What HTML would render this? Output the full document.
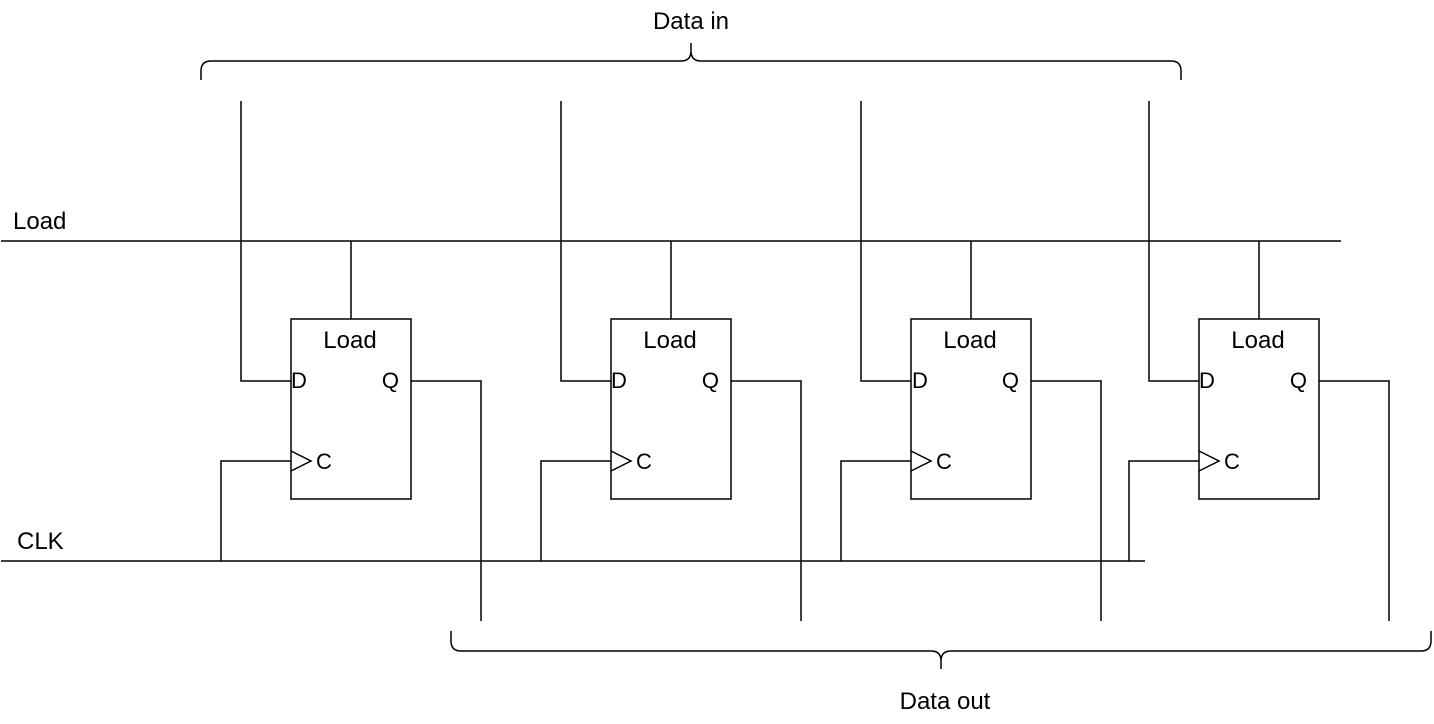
<!DOCTYPE html>
<html><head><meta charset="utf-8"><style>
html,body{margin:0;padding:0;background:#fff;}
svg{display:block;}
text{font-family:"Liberation Sans",sans-serif;font-size:24px;fill:#000;}
text.s{font-size:22px;}
</style></head><body>
<svg width="1434" height="724" viewBox="0 0 1434 724" xmlns="http://www.w3.org/2000/svg">
<g stroke="#000" stroke-width="1.5" fill="none">
<path d="M201,80 V71 Q201,61 211,61 H681 Q691,61 691,51 V43 M691,51 Q691,61 701,61 H1171 Q1181,61 1181,71 V80"/>
<path d="M451,631 V641 Q451,651 461,651 H931 Q941,651 941,661 V669 M941,661 Q941,651 951,651 H1421 Q1431,651 1431,641 V631"/>
<line x1="1" y1="241" x2="1341" y2="241"/>
<line x1="1" y1="561" x2="1145" y2="561"/>
</g>
<g stroke="#000" stroke-width="1.5" fill="none">
<path d="M241,101 V381 H291"/>
<rect x="291" y="319" width="120" height="180"/>
<line x1="351" y1="241" x2="351" y2="319"/>
<path d="M411,381 H481 V621"/>
<path d="M221,561 V461 H291"/>
<path d="M291,451 L311,461 L291,471"/>
<path d="M561,101 V381 H611"/>
<rect x="611" y="319" width="120" height="180"/>
<line x1="671" y1="241" x2="671" y2="319"/>
<path d="M731,381 H801 V621"/>
<path d="M541,561 V461 H611"/>
<path d="M611,451 L631,461 L611,471"/>
<path d="M861,101 V381 H911"/>
<rect x="911" y="319" width="120" height="180"/>
<line x1="971" y1="241" x2="971" y2="319"/>
<path d="M1031,381 H1101 V621"/>
<path d="M841,561 V461 H911"/>
<path d="M911,451 L931,461 L911,471"/>
<path d="M1149,101 V381 H1199"/>
<rect x="1199" y="319" width="120" height="180"/>
<line x1="1259" y1="241" x2="1259" y2="319"/>
<path d="M1319,381 H1389 V621"/>
<path d="M1129,561 V461 H1199"/>
<path d="M1199,451 L1219,461 L1199,471"/>
</g>
<text x="691" y="29" text-anchor="middle">Data in</text>
<text x="945" y="709" text-anchor="middle">Data out</text>
<text x="13" y="229">Load</text>
<text x="17" y="549">CLK</text>
<g>
<text x="350" y="348" text-anchor="middle">Load</text><text class="s" x="291" y="388">D</text><text class="s" x="399" y="388" text-anchor="end">Q</text><text class="s" x="316" y="469">C</text>
<text x="670" y="348" text-anchor="middle">Load</text><text class="s" x="611" y="388">D</text><text class="s" x="719" y="388" text-anchor="end">Q</text><text class="s" x="636" y="469">C</text>
<text x="970" y="348" text-anchor="middle">Load</text><text class="s" x="912" y="388">D</text><text class="s" x="1019" y="388" text-anchor="end">Q</text><text class="s" x="936" y="469">C</text>
<text x="1258" y="348" text-anchor="middle">Load</text><text class="s" x="1199" y="388">D</text><text class="s" x="1307" y="388" text-anchor="end">Q</text><text class="s" x="1224" y="469">C</text>
</g>
</svg>
</body></html>
